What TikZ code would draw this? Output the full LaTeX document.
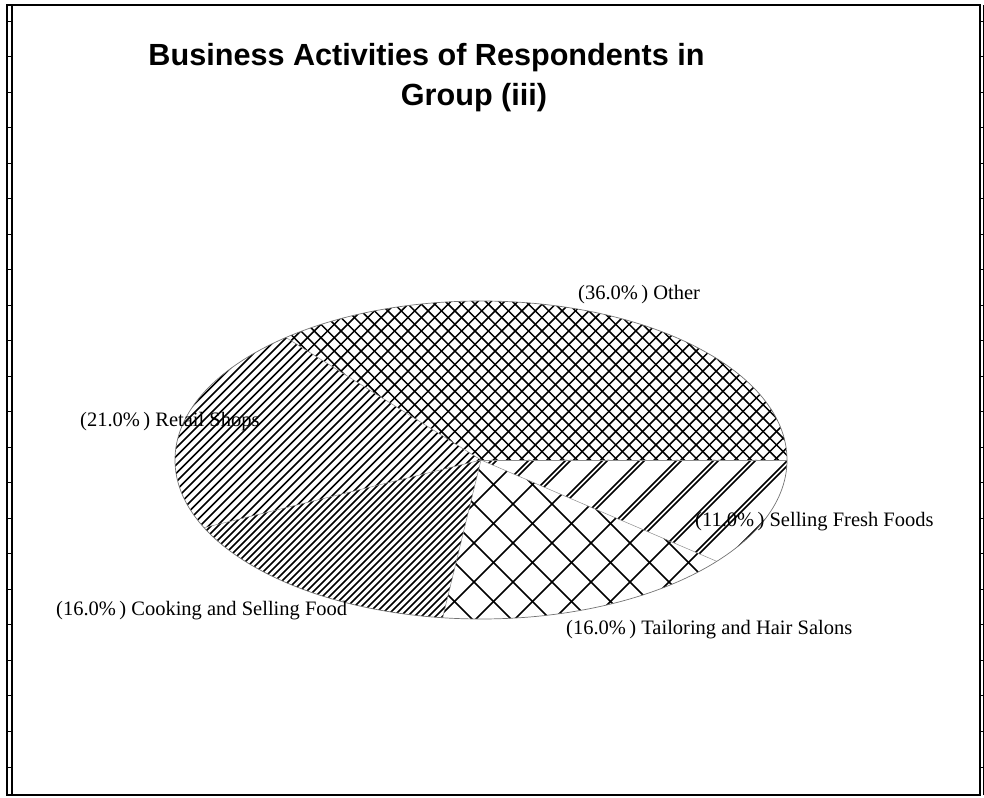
\documentclass[tikz,border=0pt]{standalone}
\usepackage{fontspec}
\setmainfont{Liberation Serif}
\newfontfamily\titlefont{Liberation Sans}
\tikzset{
	slicelabel/.style={font=\fontsize{20.5}{24}\selectfont, inner sep=0pt, anchor=west},
	headline/.style={font=\titlefont\bfseries\fontsize{30.6}{36}\selectfont, inner sep=0pt, anchor=base},
	hatchline/.style={line width=1.5pt, line cap=butt},
	sliceedge/.style={draw=black!45, line width=0.5pt},
	frameline/.style={line width=1.3pt},
	pie/.style={x radius=306, y radius=159}
}
\begin{document}
\begin{tikzpicture}[x=1pt, y=1pt]
		\useasboundingbox (0,0) rectangle (984,797);

		\draw[frameline] (7,2) -- (7,792) -- (980,792) -- (980,2) -- cycle;
		\draw[frameline] (12,2) -- (12,792);
		\draw[frameline] (983.5,2) -- (983.5,792);
		\foreach \y in {30,65.5,...,790} {
			\draw[line width=1pt] (7,\y) -- (12,\y);
			\draw[line width=1pt] (980,\y) -- (984,\y);
		}

		\node[headline] (headline) at (426.5,731) {Business Activities of Respondents in};
		\node[headline] (headgroup) at (474,691) {Group (iii)};

		\begin{scope}[shift={(481,337)}]
			\coordinate (ctr) at (0,0);

			\begin{scope}
				\clip (ctr) -- (0:306 and 159) arc[start angle=0, end angle=129.6, pie] -- cycle;
				\foreach \x in {-670,-656.6,...,280} \draw[hatchline] (\x,-200) -- ++(400,400);
				\foreach \x in {-280,-266.6,...,680} \draw[hatchline] (\x,-200) -- ++(-400,400);
			\end{scope}

			\begin{scope}
				\clip (ctr) -- (129.6:306 and 159) arc[start angle=129.6, end angle=205.2, pie] -- cycle;
				\foreach \x in {-670,-661.5,...,280} \draw[hatchline] (\x,-200) -- ++(400,400);
			\end{scope}

			\begin{scope}
				\clip (ctr) -- (205.2:306 and 159) arc[start angle=205.2, end angle=262.8, pie] -- cycle;
				\foreach \x in {-670,-663,...,280} \draw[hatchline] (\x,-200) -- ++(400,400);
			\end{scope}

			\begin{scope}
				\clip (ctr) -- (262.8:306 and 159) arc[start angle=262.8, end angle=320.4, pie] -- cycle;
				\foreach \x in {-670,-631,...,280} \draw[hatchline] (\x,-200) -- ++(400,400);
				\foreach \x in {-280,-241,...,680} \draw[hatchline] (\x,-200) -- ++(-400,400);
			\end{scope}

			\begin{scope}
				\clip (ctr) -- (320.4:306 and 159) arc[start angle=320.4, end angle=360, pie] -- cycle;
				\foreach \x in {-670,-633,...,280} {
					\draw[hatchline] (\x,-200) -- ++(400,400);
					\draw[hatchline] (\x+5,-200) -- ++(400,400);
				}
			\end{scope}

			\foreach \a in {0,129.6,205.2,262.8,320.4} \draw[sliceedge] (ctr) -- (\a:306 and 159);
			\draw[draw=black!55, line width=0.7pt] (ctr) ellipse[pie];
		\end{scope}

		\node[slicelabel] (lblother) at (578,502) {(36.0\%\,) Other};
		\node[slicelabel] (lblretail) at (80,375) {(21.0\%\,) Retail Shops};
		\node[slicelabel] (lblcooking) at (56,186) {(16.0\%\,) Cooking and Selling Food};
		\node[slicelabel] (lbltailor) at (566,167) {(16.0\%\,) Tailoring and Hair Salons};
		\node[slicelabel] (lblfresh) at (695,275) {(11.0\%\,) Selling Fresh Foods};
	\end{tikzpicture}
\end{document}
